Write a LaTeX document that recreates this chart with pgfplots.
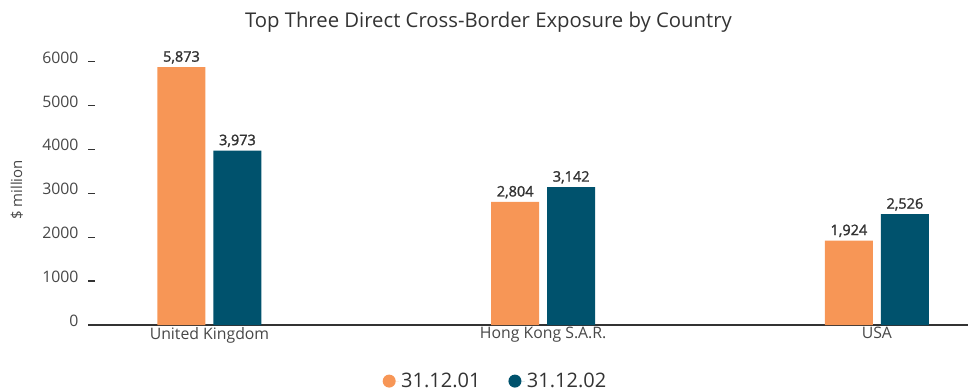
\documentclass[border=0pt]{standalone}
\usepackage{pgfplots}
\pgfplotsset{compat=1.18}
\usepackage{fontspec}
\setmainfont{Open Sans}
\newfontfamily\semibold[FakeBold=1.6]{Open Sans}
\definecolor{cOrange}{HTML}{F79656}
\definecolor{cNavy}{HTML}{00526D}
\definecolor{cText}{HTML}{333333}
\begin{document}
\begin{tikzpicture}
\path[use as bounding box] (0,0) rectangle (968bp,391bp);
\begin{axis}[
  at={(88bp,66bp)}, anchor=south west,
  scale only axis,
  width=880bp, height=272.3bp,
  xmin=-0.364, xmax=2.273,
  ymin=0, ymax=6200,
  clip=false,
  ybar=8bp, bar width=48bp,
  axis x line=bottom, axis y line=left,
  x axis line style={-, draw=cText, line width=2.5bp},
  y axis line style={draw=none},
  xtick=data,
  xticklabels={United Kingdom, Hong Kong S.A.R., USA},
  xtick style={draw=none},
  ytick={0,1000,...,6000},
  ytick style={draw=cText, line width=1.3bp},
  tick align=inside,
  major tick length=7bp,
  yticklabel style={font=\fontsize{15.8bp}{18bp}\selectfont, text=cText!90, anchor=east, xshift=-6bp, yshift=4bp},
  xticklabel style={font=\fontsize{15.8bp}{18bp}\selectfont, text=cText!90, yshift=1bp},
  /pgf/number format/assume math mode=true,
  yticklabel={\pgfmathprintnumber[1000 sep={}]{\tick}},
  nodes near coords,
  nodes near coords style={font=\semibold\fontsize{14.5bp}{16bp}\selectfont, text=cText, /pgf/number format/1000 sep={,}},
  legend style={at={(axis description cs:0.463,-0.206)}, anchor=center, draw=none, fill=none,
    legend columns=2, font=\fontsize{20bp}{22bp}\selectfont, text=cText,
    /tikz/every even column/.append style={column sep=26bp}},
  legend image code/.code={\path (-6.5bp,0) -- (10bp,0); \fill[#1] (0,0) circle (6.5bp);},
]
\addplot[fill=cOrange, draw=none] coordinates {(0,5873) (1,2804) (2,1924)};
\addplot[fill=cNavy, draw=none] coordinates {(0,3973) (1,3142) (2,2526)};
\legend{31.12.01, 31.12.02}
\node[rotate=90, font=\fontsize{15bp}{17bp}\selectfont, text=cText!90] at (axis description cs:-0.0807,0.496) {\$ million};
\node[font=\fontsize{20.3bp}{22bp}\selectfont, text=cText] at (axis description cs:0.455,1.112) {Top Three Direct Cross-Border Exposure by Country};
\end{axis}
\end{tikzpicture}
\end{document}
